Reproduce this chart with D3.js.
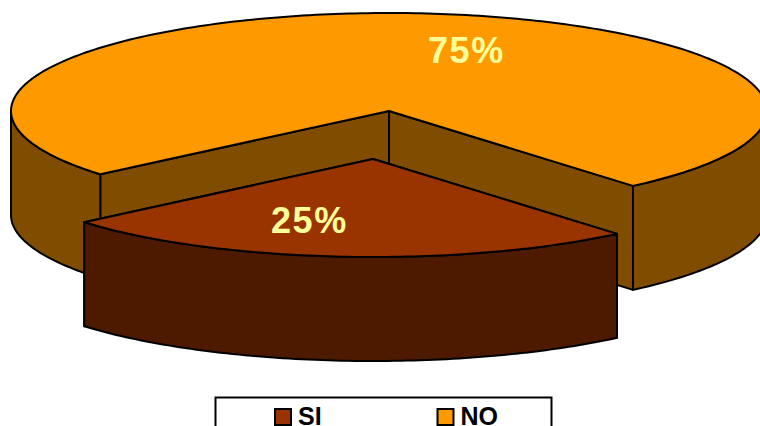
<!DOCTYPE html>
<html>
<head>
<meta charset="utf-8">
<script src="https://cdn.jsdelivr.net/npm/d3@7/dist/d3.min.js"></script>
<style>
html, body { margin: 0; padding: 0; background: #fff; overflow: hidden; }
svg { display: block; }
text { font-family: "Liberation Sans", Arial, sans-serif; font-weight: bold; }
</style>
</head>
<body>
<svg id="chart" width="760" height="426"></svg>
<script>
// Survey answers and their share of the total
const categories = ["SI", "NO"];
const shares = [25, 75];
const topColors = ["#993300", "#FF9900"];
const wallColors = ["#4D1A00", "#804D00"];

const width = 760, height = 426;
const svg = d3.select("#chart");

// Tilted disc geometry
const center = { x: 389, y: 111 };
const rx = 378, ry = 98, depth = 104;
const explode = { dx: -16, dy: 48 };   // the SI wedge is pulled towards the viewer
const startDeg = 139.8;

const rad = d => d * Math.PI / 180;
const pie = d3.pie().sort(null).value(d => d.share)
  .startAngle(rad(startDeg)).endAngle(rad(startDeg + 360));
const slices = pie(categories.map((name, i) => ({ name, share: shares[i], i })));

// Circle radius maps onto the ellipse of the disc; angles run clockwise from 12 o'clock
const rimX = d3.scaleLinear().domain([-1, 1]).range([-rx, rx]);
const rimY = d3.scaleLinear().domain([-1, 1]).range([-ry, ry]);
const project = (a, o, z = 0) => [
  center.x + o.dx + rimX(Math.sin(a)),
  center.y + o.dy + rimY(-Math.cos(a)) + z
];
const apex = (o, z = 0) => [center.x + o.dx, center.y + o.dy + z];

const line = d3.line();
const arcPoints = (a0, a1, o, z) => {
  const n = Math.max(2, Math.ceil(Math.abs(a1 - a0) / rad(1)));
  return d3.range(n + 1).map(i => project(a0 + (a1 - a0) * i / n, o, z));
};

// Outer rim faces the viewer only between 90 and 270 degrees (plus whole turns)
function frontRanges(a0, a1) {
  const out = [];
  for (let k = -1; k <= 2; k++) {
    const lo = Math.max(a0, rad(90) + k * 2 * Math.PI);
    const hi = Math.min(a1, rad(270) + k * 2 * Math.PI);
    if (hi > lo) out.push([lo, hi]);
  }
  return out;
}

const stroke = { stroke: "#000", "stroke-width": 2, "stroke-linejoin": "round" };
const applyStroke = sel => { Object.entries(stroke).forEach(([k, v]) => sel.attr(k, v)); return sel; };

function drawSlice(s, o) {
  const g = svg.append("g");
  const wall = wallColors[s.data.i], top = topColors[s.data.i];

  // Cut faces running to the axis of the disc
  [s.startAngle, s.endAngle].forEach(a => {
    const face = [apex(o), project(a, o), project(a, o, depth), apex(o, depth)];
    applyStroke(g.append("path").attr("d", line(face) + "Z").attr("fill", wall));
  });

  // Curved outer wall
  frontRanges(s.startAngle, s.endAngle).forEach(([lo, hi]) => {
    const pts = arcPoints(lo, hi, o, 0).concat(arcPoints(hi, lo, o, depth));
    applyStroke(g.append("path").attr("d", line(pts) + "Z").attr("fill", wall));
  });

  // Top face
  const topPts = [apex(o)].concat(arcPoints(s.startAngle, s.endAngle, o, 0));
  applyStroke(g.append("path").attr("d", line(topPts) + "Z").attr("fill", top));
}

drawSlice(slices[1], { dx: 0, dy: 0 });
drawSlice(slices[0], explode);

// Percentage labels on the top faces
const labelPos = { SI: [271, 233], NO: [428, 63] };
slices.forEach(s => {
  svg.append("text")
    .attr("x", labelPos[s.data.name][0])
    .attr("y", labelPos[s.data.name][1])
    .attr("font-size", 36)
    .attr("letter-spacing", 1.6)
    .attr("fill", "#FFFF99")
    .text(s.data.share + "%");
});

// Legend box, running off the lower edge
svg.append("rect")
  .attr("x", 215.5).attr("y", 397.5).attr("width", 336).attr("height", 60)
  .attr("fill", "#fff").attr("stroke", "#000").attr("stroke-width", 2);

const legendX = d3.scalePoint().domain(categories).range([275, 437.5]);
categories.forEach((name, i) => {
  svg.append("rect")
    .attr("x", legendX(name)).attr("y", 409).attr("width", 16).attr("height", 16)
    .attr("fill", topColors[i]).attr("stroke", "#000").attr("stroke-width", 2);
  svg.append("text")
    .attr("x", legendX(name) + 23).attr("y", 425)
    .attr("font-size", 25).attr("fill", "#000")
    .text(name);
});
</script>
</body>
</html>
